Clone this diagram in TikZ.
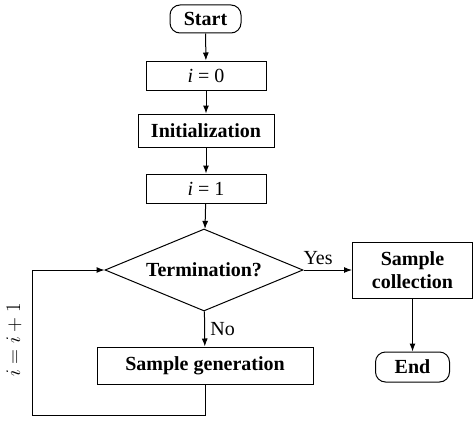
\documentclass[tikz,border=0pt]{standalone}
\usepackage{fontspec}
\setmainfont{Liberation Serif}
\usetikzlibrary{shapes.geometric, positioning, arrows.meta}

\tikzset{
  plainbox/.style={draw, line width=1pt, inner sep=0pt, align=center, font=\fontsize{20}{23}\selectfont},
  box/.style={plainbox, font=\fontsize{20}{23}\selectfont\bfseries},
  term/.style={box, rounded corners=10pt},
  flow/.style={-{Latex[length=8pt,width=6pt]}, line width=1pt}
}

\begin{document}
\begin{tikzpicture}[x=1pt,y=-1pt,>=Latex,every node/.style={font=\fontsize{20}{23}\selectfont}]
\useasboundingbox (0,0) rectangle (473,420);
% main column
\node[term, minimum width=71pt, minimum height=28pt] (start) at (205.5,19) {Start};
\node[plainbox, minimum width=120pt, minimum height=29pt] (izero) at (206,75.5) {\textit{i} = 0};
\node[box, minimum width=136pt, minimum height=33pt] (init) at (206,130.5) {Initialization};
\node[plainbox, minimum width=120pt, minimum height=29pt] (ione) at (206,188.5) {\textit{i} = 1};
\node[box, diamond, aspect=2.4, minimum width=198pt, minimum height=82pt] (check) at (204,270) {Termination?};
\node[box, minimum width=216pt, minimum height=37pt] (gen) at (205,365.5) {Sample generation};
% right column
\node[box, minimum width=120pt, minimum height=56pt] (coll) at (412.5,270) {Sample\\collection};
\node[term, minimum width=74pt, minimum height=30pt] (end) at (412.5,367) {End};

\draw[flow] (start) -- (izero);
\draw[flow] (izero) -- (init);
\draw[flow] (init) -- (ione);
\draw[flow] (ione) -- (check);
\draw[flow] (check) -- node[right=2pt] {No} (gen);
\draw[flow] (check) -- node[above=1pt, pos=0.3] {Yes} (coll);
\draw[flow] (coll) -- (end);

% loop back
\coordinate (back) at (32,415);
\draw[flow] (gen.south) |- (back) |- (check.west);
\node[rotate=90] (incr) at (14,340) {$i=i+1$};
\end{tikzpicture}
\end{document}
